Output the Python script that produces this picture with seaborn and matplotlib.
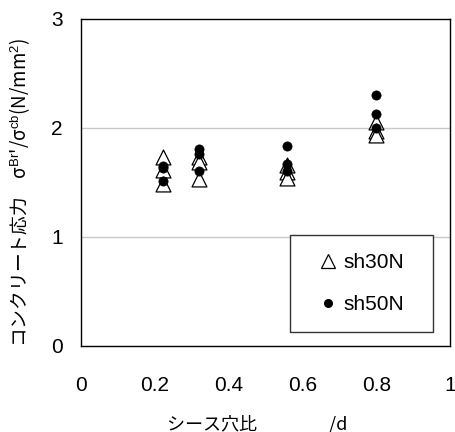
import matplotlib
matplotlib.use("Agg")
import matplotlib.pyplot as plt
import seaborn as sns
import pandas as pd
from matplotlib.lines import Line2D
from matplotlib.patches import Rectangle

# Sheath hole ratio (x) and concrete bearing stress ratio (y) per specimen
ratio_sh30n = [0.223, 0.223, 0.223, 0.32, 0.32, 0.32, 0.559, 0.559, 0.559, 0.80, 0.80, 0.80]
stress_sh30n = [1.73, 1.61, 1.48, 1.73, 1.68, 1.53, 1.66, 1.59, 1.54, 2.05, 1.97, 1.93]
ratio_sh50n = [0.223, 0.223, 0.223, 0.32, 0.32, 0.32, 0.559, 0.559, 0.559, 0.80, 0.80, 0.80]
stress_sh50n = [1.65, 1.63, 1.51, 1.80, 1.76, 1.60, 1.83, 1.67, 1.60, 2.30, 2.12, 2.00]
series_names = ["sh30N", "sh50N"]
x_ticks = [0, 0.2, 0.4, 0.6, 0.8, 1]
x_tick_labels = ["0", "0.2", "0.4", "0.6", "0.8", "1"]
y_ticks = [0, 1, 2, 3]
y_tick_labels = ["0", "1", "2", "3"]

sns.set_theme(style="white")
plt.rcParams["font.family"] = ["Noto Sans CJK JP", "DejaVu Sans"]
plt.rcParams["mathtext.fontset"] = "custom"
plt.rcParams["mathtext.rm"] = "Liberation Sans"
plt.rcParams["mathtext.it"] = "Liberation Sans"
plt.rcParams["text.color"] = "black"
plt.rcParams["xtick.color"] = "black"
plt.rcParams["ytick.color"] = "black"

df30 = pd.DataFrame({"ratio": ratio_sh30n, "stress": stress_sh30n})
df50 = pd.DataFrame({"ratio": ratio_sh50n, "stress": stress_sh50n})

fig = plt.figure(figsize=(4.56, 4.32), dpi=100)
ax = fig.add_axes([81 / 456, 1 - 345.7 / 432, 369 / 456, 327.2 / 432])

for yv in [1, 2]:
    ax.axhline(yv, color="#c8c8c8", lw=1.0, zorder=0)

sns.scatterplot(data=df30, x="ratio", y="stress", ax=ax, marker="^", s=115,
                color="white", edgecolor="black", linewidth=0.9, zorder=3)
sns.scatterplot(data=df50, x="ratio", y="stress", ax=ax, marker="o", s=44,
                color="black", edgecolor="black", linewidth=0.5, zorder=4)

ax.set_xlim(0, 1)
ax.set_ylim(0, 3)
ax.set_xticks(x_ticks)
ax.set_xticklabels(x_tick_labels, family="Liberation Sans", fontsize=15, color="black")
ax.set_yticks(y_ticks)
ax.set_yticklabels(y_tick_labels, family="Liberation Sans", fontsize=15, color="black")
ax.tick_params(axis="x", direction="in", length=5, width=1.0, color="#333333", pad=22)
ax.tick_params(axis="y", direction="in", length=6.5, width=1.2, color="#666666", pad=13)
for sp in ax.spines.values():
    sp.set_color("black")
    sp.set_linewidth(1.0)
ax.set_xlabel("")
ax.set_ylabel("")

fig.text(257 / 456, 1 - 424 / 432, "シース穴比　　　　/d",
         ha="center", va="center", fontsize=13, color="black")
fig.text(20 / 456, 1 - 192 / 432,
         "コンクリート応力　σ$^{\\mathrm{Br}}$'/σ$^{\\mathrm{cb}}$(N/mm$^{2}$)",
         rotation=90, ha="center", va="center", fontsize=13.5, color="black")

# legend box
x0 = (290 - 81) / 369
y0 = (345.7 - 331.7) / 327.2
w = (433.3 - 290) / 369
h = (331.7 - 235) / 327.2
ax.add_patch(Rectangle((x0, y0), w, h, transform=ax.transAxes, facecolor="white",
                       edgecolor="#333333", linewidth=1.0, zorder=5))
handles = [
    Line2D([], [], marker="^", ls="none", ms=9.5, mfc="white", mec="black", mew=0.9),
    Line2D([], [], marker="o", ls="none", ms=5.5, mfc="black", mec="black"),
]
leg = ax.legend(handles, series_names, loc="center",
                bbox_to_anchor=(x0 + w / 2, y0 + h / 2), frameon=False,
                prop={"family": "Liberation Sans", "size": 15},
                handlelength=0.8, handletextpad=0.35, labelspacing=1.1,
                borderpad=0)
for t in leg.get_texts():
    t.set_color("black")
leg.set_zorder(6)

fig.savefig("out.png", dpi=100)
